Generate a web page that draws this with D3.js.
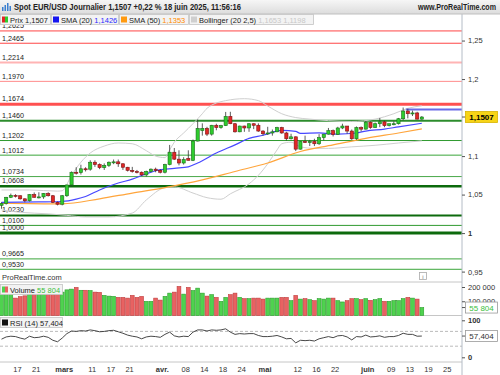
<!DOCTYPE html>
<html>
<head>
<meta charset="utf-8">
<script src="https://cdn.jsdelivr.net/npm/d3@7"></script>
<style>
  body { margin: 0; background: #fff; }
  svg { display: block; font-family: "Liberation Sans", Arial, sans-serif; }
</style>
</head>
<body>
<div id="chart"></div>
<script>
// ---- data ----
const dates = ["02-12","02-13","02-14","02-17","02-18","02-19","02-20","02-21","02-24","02-25","02-26","02-27","02-28",
  "03-03","03-04","03-05","03-06","03-07","03-10","03-11","03-12","03-13","03-14","03-17","03-18","03-19","03-20","03-21","03-24","03-25","03-26","03-27","03-28","03-31",
  "04-01","04-02","04-03","04-04","04-07","04-08","04-09","04-10","04-11","04-14","04-15","04-16","04-17","04-18","04-21","04-22","04-23","04-24","04-25","04-28","04-29","04-30",
  "05-01","05-02","05-05","05-06","05-07","05-08","05-09","05-12","05-13","05-14","05-15","05-16","05-19","05-20","05-21","05-22","05-23","05-26","05-27","05-28","05-29","05-30",
  "06-02","06-03","06-04","06-05","06-06","06-09","06-10","06-11","06-12","06-13","06-16","06-17","06-18"];
const futureDates = ["06-19","06-20","06-23","06-24","06-25","06-26","06-27"];

const open = [1.0360,1.0385,1.0465,1.0490,1.0485,1.0445,1.0420,1.0500,1.0465,1.0470,1.0515,1.0485,1.0400,
  1.0375,1.0485,1.0625,1.0790,1.0785,1.0835,1.0830,1.0920,1.0890,1.0850,1.0880,1.0920,1.0925,1.0900,1.0855,1.0815,1.0800,1.0790,1.0755,1.0800,1.0830,
  1.0815,1.0790,1.0890,1.1050,1.0960,1.0910,1.0970,1.0945,1.1195,1.1330,1.1360,1.1285,1.1400,1.1370,1.1395,1.1515,1.1420,1.1315,1.1390,1.1365,1.1420,1.1400,
  1.1325,1.1290,1.1300,1.1315,1.1370,1.1300,1.1225,1.1250,1.1090,1.1190,1.1175,1.1190,1.1160,1.1240,1.1285,1.1330,1.1280,1.1365,1.1390,1.1325,1.1225,1.1370,
  1.1350,1.1440,1.1370,1.1420,1.1445,1.1395,1.1420,1.1420,1.1485,1.1585,1.1550,1.1560,1.1480];
const high = [1.0400,1.0470,1.0513,1.0505,1.0490,1.0450,1.0505,1.0528,1.0530,1.0520,1.0530,1.0495,1.0410,
  1.0495,1.0630,1.0800,1.0855,1.0888,1.0855,1.0945,1.0945,1.0905,1.0905,1.0930,1.0955,1.0955,1.0905,1.0860,1.0860,1.0820,1.0800,1.0810,1.0840,1.0850,
  1.0830,1.0900,1.1145,1.1105,1.1075,1.0985,1.1075,1.1215,1.1475,1.1425,1.1380,1.1405,1.1420,1.1405,1.1573,1.1575,1.1430,1.1395,1.1395,1.1425,1.1425,1.1425,
  1.1335,1.1380,1.1345,1.1380,1.1380,1.1315,1.1290,1.1255,1.1195,1.1265,1.1210,1.1225,1.1285,1.1285,1.1365,1.1345,1.1380,1.1420,1.1390,1.1345,1.1385,1.1385,
  1.1455,1.1450,1.1435,1.1495,1.1460,1.1420,1.1450,1.1495,1.1630,1.1615,1.1590,1.1575,1.1520];
const low = [1.0316,1.0370,1.0455,1.0462,1.0435,1.0400,1.0410,1.0460,1.0450,1.0445,1.0475,1.0390,1.0360,
  1.0360,1.0470,1.0610,1.0760,1.0760,1.0800,1.0810,1.0860,1.0830,1.0820,1.0860,1.0895,1.0860,1.0820,1.0800,1.0785,1.0775,1.0745,1.0735,1.0790,1.0790,
  1.0775,1.0775,1.0880,1.0950,1.0880,1.0890,1.0945,1.0935,1.1190,1.1265,1.1260,1.1265,1.1335,1.1355,1.1390,1.1415,1.1305,1.1310,1.1315,1.1315,1.1350,1.1315,
  1.1265,1.1275,1.1265,1.1310,1.1290,1.1200,1.1215,1.1065,1.1085,1.1170,1.1130,1.1130,1.1145,1.1205,1.1280,1.1255,1.1275,1.1350,1.1290,1.1210,1.1210,1.1320,
  1.1345,1.1355,1.1365,1.1375,1.1375,1.1385,1.1400,1.1410,1.1465,1.1490,1.1520,1.1475,1.1470];
const close = [1.0385,1.0465,1.0490,1.0485,1.0445,1.0420,1.0500,1.0465,1.0470,1.0515,1.0485,1.0400,1.0375,
  1.0485,1.0625,1.0790,1.0785,1.0835,1.0830,1.0920,1.0890,1.0850,1.0880,1.0920,1.0925,1.0900,1.0855,1.0815,1.0800,1.0790,1.0755,1.0800,1.0830,1.0815,
  1.0790,1.0890,1.1050,1.0960,1.0910,1.0955,1.0945,1.1195,1.1360,1.1360,1.1285,1.1400,1.1370,1.1395,1.1515,1.1420,1.1315,1.1390,1.1365,1.1420,1.1400,1.1325,
  1.1290,1.1300,1.1315,1.1370,1.1300,1.1225,1.1250,1.1090,1.1190,1.1175,1.1190,1.1160,1.1240,1.1285,1.1330,1.1280,1.1365,1.1390,1.1325,1.1225,1.1370,1.1350,
  1.1440,1.1370,1.1420,1.1445,1.1395,1.1420,1.1420,1.1485,1.1585,1.1550,1.1560,1.1480,1.1507];

const volume = [150000,152000,150000,122000,132000,138000,150000,150000,150000,150000,150000,155000,160000,
  164000,180000,185000,197000,177000,177000,175000,164000,162000,141000,136000,134000,127000,127000,122000,141000,127000,134000,99000,99000,122000,
  108000,134000,157000,164000,204000,150000,197000,175000,192000,157000,136000,146000,127000,99000,127000,146000,157000,127000,118000,118000,122000,122000,
  115000,122000,122000,122000,127000,127000,104000,141000,115000,118000,111000,104000,118000,115000,122000,122000,104000,95000,104000,118000,118000,111000,
  118000,106000,111000,118000,99000,99000,104000,104000,118000,127000,122000,115000,55804];

const rsi = [49,55,57,56,52,49,57,53,54,57,54,46,42,52,64,71,70,72,71,74,72,69,70,72,73,69,65,60,57,55,
  50,55,57,56,54,62,68,58,55,57,56,68,74,74,71,74,73,74,77,68,62,64,63,64,64,59,56,56,57,59,
  55,50,51,39,46,45,46,44,50,53,56,53,58,59,55,47,56,55,60,55,56,58,54,56,56,59,65,62,62,57,57.404];

// moving averages and bands, read as [day index, value]
const sma20 = [[0,1.0400],[8,1.0405],[13,1.0410],[16,1.0440],[18,1.0475],[21,1.0560],[25,1.0650],[28,1.0700],[31,1.0770],
  [33,1.0810],[37,1.0840],[40,1.0860],[42,1.0910],[46,1.1040],[50,1.1145],[53,1.1230],[56,1.1270],[60,1.1335],[63,1.1320],
  [64,1.1295],[68,1.1300],[72,1.1285],[76,1.1300],[78,1.1325],[82,1.1350],[85,1.1380],[90,1.1426]];
const sma50 = [[0,1.0390],[13,1.0380],[21,1.0445],[28,1.0520],[35,1.0590],[43,1.0690],[50,1.0800],[57,1.0910],
  [64,1.1060],[71,1.1145],[78,1.1230],[85,1.1300],[90,1.1353]];
const bollUp = [[0,1.0560],[6,1.0560],[12,1.0545],[13,1.0550],[15,1.0750],[17,1.0920],[19,1.1040],[22,1.1130],[25,1.1170],
  [28,1.1160],[31,1.1070],[33,1.1000],[35,1.0980],[36,1.1080],[37,1.1180],[39,1.1300],[41,1.1420],[43,1.1550],[44,1.1620],
  [48,1.1720],[52,1.1745],[55,1.1720],[57,1.1650],[60,1.1550],[63,1.1500],[66,1.1480],[70,1.1460],[75,1.1450],[80,1.1480],
  [84,1.1550],[87,1.1620],[90,1.1653]];
const bollLow = [[0,1.0300],[4,1.0270],[10,1.0250],[14,1.0230],[18,1.0210],[23,1.0210],[28,1.0260],[31,1.0430],[35,1.0590],
  [37,1.0600],[41,1.0520],[44,1.0460],[47,1.0440],[49,1.0510],[53,1.0640],[55,1.0750],[57,1.0900],[59,1.1080],[60,1.1160],
  [62,1.1180],[64,1.1120],[67,1.1100],[70,1.1100],[75,1.1120],[80,1.1140],[85,1.1170],[90,1.1198]];

const levels = [1.2625,1.2465,1.2214,1.1970,1.1674,1.1460,1.1202,1.1012,1.0734,1.0608,1.0230,1.0100,1.0000,0.9665,0.9530];
const drawnLevel = { from: "06-13", value: 1.1605 };

const priceTicks = [0.95,1,1.05,1.1,1.2,1.25];
const tickDates = ["02-17","02-21","03-03","03-11","03-17","03-21","04-01","04-08","04-14","04-18","04-24","05-01","05-12","05-16","05-22","06-02","06-09","06-13","06-19","06-25"];
const tickLabels = ["17","21","mars","11","17","21","avr.","08","14","18","24","mai","12","16","22","juin","09","13","19","25"];

// ---- styles ----
const levelStyle = {
  1.2625: ["#ff4646", 1], 1.2465: ["#ff4646", 1], 1.2214: ["#ffb4b4", 2], 1.1970: ["#ff8c8c", 1],
  1.1674: ["#ff5050", 3], 1.1460: ["#2c8c2c", 2], 1.1202: ["#2f9a2f", 1], 1.1012: ["#3aa53a", 1],
  1.0734: ["#49a849", 1], 1.0608: ["#0c6a0c", 2.5], 1.0230: ["#0c6a0c", 2], 1.0100: ["#2f9a2f", 1],
  1.0000: ["#0c6a0c", 3], 0.9665: ["#3aa53a", 1], 0.9530: ["#3aa53a", 1]
};
const green = "#2ecc2e", greenDark = "#1b6e1b", red = "#e02626", redDark = "#7c1414";
const fmt = v => String(v).replace(".", ",");

const W = 500, H = 375, plotR = 462;
const mainTop = 25, mainBot = 282, volBot = 315.5, rsiBot = 362;

const svg = d3.select("#chart").append("svg")
  .attr("width", W).attr("height", H);

const allDays = dates.concat(futureDates);
const x = d3.scaleLinear().domain([0, 98]).range([1.5, 459.2]);
const xd = d => x(allDays.indexOf(d));

const y = d3.scaleLinear().domain([0.9365, 1.2663]).range([mainBot, 28]);
const yVol = d3.scaleLinear().domain([0, 200000]).range([volBot, 287]);
const yRsi = d3.scaleLinear().domain([0, 100]).range([357.3, 320.3]);

// clip for main panel
svg.append("clipPath").attr("id", "clipMain")
  .append("rect").attr("x", 0).attr("y", mainTop).attr("width", plotR).attr("height", mainBot - mainTop);

const main = svg.append("g").attr("clip-path", "url(#clipMain)");

// support / resistance levels
levels.forEach(v => {
  const [col, w] = levelStyle[v];
  main.append("line")
    .attr("x1", 0).attr("x2", plotR)
    .attr("y1", y(v)).attr("y2", y(v))
    .attr("stroke", col).attr("stroke-width", w);
  main.append("text")
    .attr("x", 2).attr("y", y(v) - w / 2 - 2)
    .attr("font-size", 7.2).attr("fill", "#222")
    .text(v.toFixed(4).replace(".", ","));
});

// bollinger, sma
const line = d3.line().x(d => x(d[0])).y(d => y(d[1])).curve(d3.curveMonotoneX);
[bollUp, bollLow].forEach(pts => {
  main.append("path").datum(pts).attr("d", line)
    .attr("fill", "none").attr("stroke", "#cfcfcf").attr("stroke-width", 1);
});
main.append("path").datum(sma50).attr("d", line)
  .attr("fill", "none").attr("stroke", "#ffa53c").attr("stroke-width", 1.2);
main.append("path").datum(sma20).attr("d", line)
  .attr("fill", "none").attr("stroke", "#4848ff").attr("stroke-width", 1.2);

// drawn horizontal level (blue)
main.append("line")
  .attr("x1", xd(drawnLevel.from) - 2).attr("x2", plotR)
  .attr("y1", y(drawnLevel.value)).attr("y2", y(drawnLevel.value))
  .attr("stroke", "#6a6ae8").attr("stroke-width", 2);

// candles
const idx = d3.range(dates.length);
const candles = main.append("g").selectAll("g").data(idx).join("g");
candles.append("line")
  .attr("x1", i => x(i)).attr("x2", i => x(i))
  .attr("y1", i => y(high[i])).attr("y2", i => y(low[i]))
  .attr("stroke", "#333").attr("stroke-width", 0.8);
candles.append("rect")
  .attr("x", i => x(i) - 1.6).attr("width", 3.2)
  .attr("y", i => y(Math.max(open[i], close[i])))
  .attr("height", i => Math.max(1, Math.abs(y(open[i]) - y(close[i]))))
  .attr("fill", i => close[i] >= open[i] ? green : red)
  .attr("stroke", i => close[i] >= open[i] ? greenDark : redDark)
  .attr("stroke-width", 0.6);

// watermark and info button
svg.append("text").attr("x", 2).attr("y", 279.5).attr("font-size", 7.5).attr("fill", "#333")
  .text("ProRealTime.com");
svg.append("rect").attr("x", 419.5).attr("y", 272.5).attr("width", 7).attr("height", 7)
  .attr("fill", "#fff").attr("stroke", "#aaa").attr("stroke-width", 0.8);
svg.append("text").attr("x", 423).attr("y", 278.5).attr("font-size", 6).attr("fill", "#777")
  .attr("text-anchor", "middle").text("i");

// panel separators
[mainBot, volBot].forEach(v => {
  svg.append("line").attr("x1", 0).attr("x2", plotR).attr("y1", v).attr("y2", v)
    .attr("stroke", "#c6c6c6").attr("stroke-width", 1);
});

// volume bars
svg.append("g").selectAll("rect").data(idx).join("rect")
  .attr("x", i => x(i) - 1.9).attr("width", 3.8)
  .attr("y", i => yVol(volume[i]))
  .attr("height", i => volBot - yVol(volume[i]))
  .attr("fill", i => close[i] >= open[i] ? "#4fd24f" : "#e86262")
  .attr("stroke", i => close[i] >= open[i] ? "#2c9e2c" : "#c03c3c")
  .attr("stroke-width", 0.6);

// RSI
[70, 30].forEach(v => {
  svg.append("line").attr("x1", 0).attr("x2", plotR).attr("y1", yRsi(v)).attr("y2", yRsi(v))
    .attr("stroke", "#aaa").attr("stroke-width", 0.8).attr("stroke-dasharray", "3,2");
});
svg.append("path").datum(idx)
  .attr("d", d3.line().x(i => x(i)).y(i => yRsi(rsi[i])))
  .attr("fill", "none").attr("stroke", "#333").attr("stroke-width", 0.9);

// bottom axis
svg.append("line").attr("x1", 0).attr("x2", plotR).attr("y1", rsiBot).attr("y2", rsiBot)
  .attr("stroke", "#c6c6c6");
tickDates.forEach((d, k) => {
  const bold = isNaN(+tickLabels[k]);
  svg.append("text").attr("x", xd(d) + 2).attr("y", 371.5)
    .attr("text-anchor", "middle").attr("font-size", 7.5)
    .attr("font-weight", bold ? "bold" : "normal").attr("fill", "#333")
    .text(tickLabels[k]);
});

// right axes
svg.append("line").attr("x1", plotR).attr("x2", plotR).attr("y1", 14).attr("y2", H)
  .attr("stroke", "#b4bcc6");

const styleAxis = g => {
  g.select(".domain").remove();
  g.selectAll(".tick line").attr("stroke", "#555");
  g.selectAll(".tick text").attr("font-size", 7.5).attr("fill", "#333")
    .attr("font-family", "Liberation Sans, Arial, sans-serif").attr("x", 6);
};
svg.append("g").attr("transform", `translate(${plotR},0)`)
  .call(d3.axisRight(y).tickValues(priceTicks).tickSize(3).tickFormat(fmt))
  .call(styleAxis)
  .selectAll(".tick text").attr("font-weight", d => d === 1 ? "bold" : "normal");
svg.append("g").attr("transform", `translate(${plotR},0)`)
  .call(d3.axisRight(yVol).tickValues([100000, 200000]).tickSize(3)
    .tickFormat(d => d3.format(",")(d).replace(",", " ")))
  .call(styleAxis);
svg.append("g").attr("transform", `translate(${plotR},0)`)
  .call(d3.axisRight(yRsi).tickValues([0, 100]).tickSize(3))
  .call(styleAxis)
  .selectAll(".tick text").attr("font-weight", "bold");

// value boxes on the right
function valueBox(yy, txt, fill, stroke, color, bold) {
  svg.append("line").attr("x1", plotR).attr("x2", 465.5).attr("y1", yy).attr("y2", yy).attr("stroke", "#555");
  svg.append("rect").attr("x", 465.5).attr("y", yy - 5.5).attr("width", 32).attr("height", 11)
    .attr("fill", fill).attr("stroke", stroke).attr("stroke-width", 0.8);
  svg.append("text").attr("x", 481.5).attr("y", yy + 3).attr("text-anchor", "middle")
    .attr("font-size", 8).attr("font-weight", bold ? "bold" : "normal").attr("fill", color).text(txt);
}
valueBox(y(close[90]), fmt(close[90]), "#f7d417", "#d8b400", "#000", true);
valueBox(yVol(volume[90]), "55 804", "#fff", "#999", "#3cbf3c", false);
valueBox(yRsi(rsi[90]), fmt(rsi[90]), "#fff", "#999", "#333", false);

// panel legends
function legendBox(x0, y0, w, parts, icon) {
  svg.append("rect").attr("x", x0 + 0.5).attr("y", y0 + 0.5).attr("width", w).attr("height", 10)
    .attr("fill", "#f3f3f3").attr("stroke", "#c4c4c4").attr("stroke-width", 0.8);
  icon(x0 + 2, y0 + 2.5);
  const t = svg.append("text").attr("x", x0 + 10).attr("y", y0 + 8.5).attr("font-size", 7.5);
  parts.forEach(([s, c]) => t.append("tspan").attr("fill", c).text(s));
}
const twoTone = (a, b) => (x0, y0) => {
  svg.append("rect").attr("x", x0).attr("y", y0).attr("width", 3).attr("height", 6).attr("fill", a);
  svg.append("rect").attr("x", x0 + 3).attr("y", y0).attr("width", 3).attr("height", 6).attr("fill", b);
};
const square = c => (x0, y0) => {
  svg.append("rect").attr("x", x0).attr("y", y0).attr("width", 6).attr("height", 6).attr("fill", c);
};
legendBox(0, 284, 62, [["Volume ", "#222"], ["55 804", "#3cbf3c"]], twoTone("#4fd24f", "#e86262"));
legendBox(0, 317, 62, [["RSI (14) ", "#222"], ["57,404", "#222"]], square("#111"));

// header
const grad = svg.append("defs").append("linearGradient").attr("id", "hdr")
  .attr("x1", 0).attr("x2", 0).attr("y1", 0).attr("y2", 1);
grad.append("stop").attr("offset", 0).attr("stop-color", "#f6f6f6");
grad.append("stop").attr("offset", 1).attr("stop-color", "#dcdcdc");
svg.append("rect").attr("x", 0).attr("y", 0).attr("width", W).attr("height", 14).attr("fill", "url(#hdr)");
svg.append("line").attr("x1", 0).attr("x2", W).attr("y1", 14).attr("y2", 14).attr("stroke", "#bfbfbf");
[[2, 6, 4], [4.5, 4, 6], [7, 2, 8], [9.5, 5, 5]].forEach(([bx, by, bh]) => {
  svg.append("rect").attr("x", bx).attr("y", by + 1).attr("width", 1.5).attr("height", bh).attr("fill", "#3a7fd0");
});
svg.append("text").attr("x", 14).attr("y", 10).attr("font-size", 8.2).attr("font-weight", "bold")
  .attr("fill", "#222").attr("textLength", 227).attr("lengthAdjust", "spacingAndGlyphs")
  .text("Spot EUR/USD Journalier 1,1507 +0,22 % 18 juin 2025, 11:56:16");
svg.append("text").attr("x", 418).attr("y", 10).attr("font-size", 8.2).attr("font-weight", "bold")
  .attr("fill", "#222").attr("textLength", 78).attr("lengthAdjust", "spacingAndGlyphs")
  .text("www.ProRealTime.com");

// main legend row
const legendItems = [
  { x: 0, w: 50, parts: [["Prix ", "#222"], [fmt(close[90]), "#222"]], icon: twoTone("#e02626", "#2ecc2e") },
  { x: 51, w: 67, parts: [["SMA (20) ", "#222"], ["1,1426", "#2b2bff"]], icon: square("#1515f0") },
  { x: 119, w: 69, parts: [["SMA (50) ", "#222"], ["1,1353", "#ff8c00"]], icon: square("#ff9a10") },
  { x: 189, w: 124, parts: [["Bollinger (20 2,5) ", "#222"], ["1,1653 1,1198", "#c8c8c8"]], icon: square("#cfcfcf") }
];
legendItems.forEach(it => legendBox(it.x, 14, it.w, it.parts, it.icon));
</script>
</body>
</html>
